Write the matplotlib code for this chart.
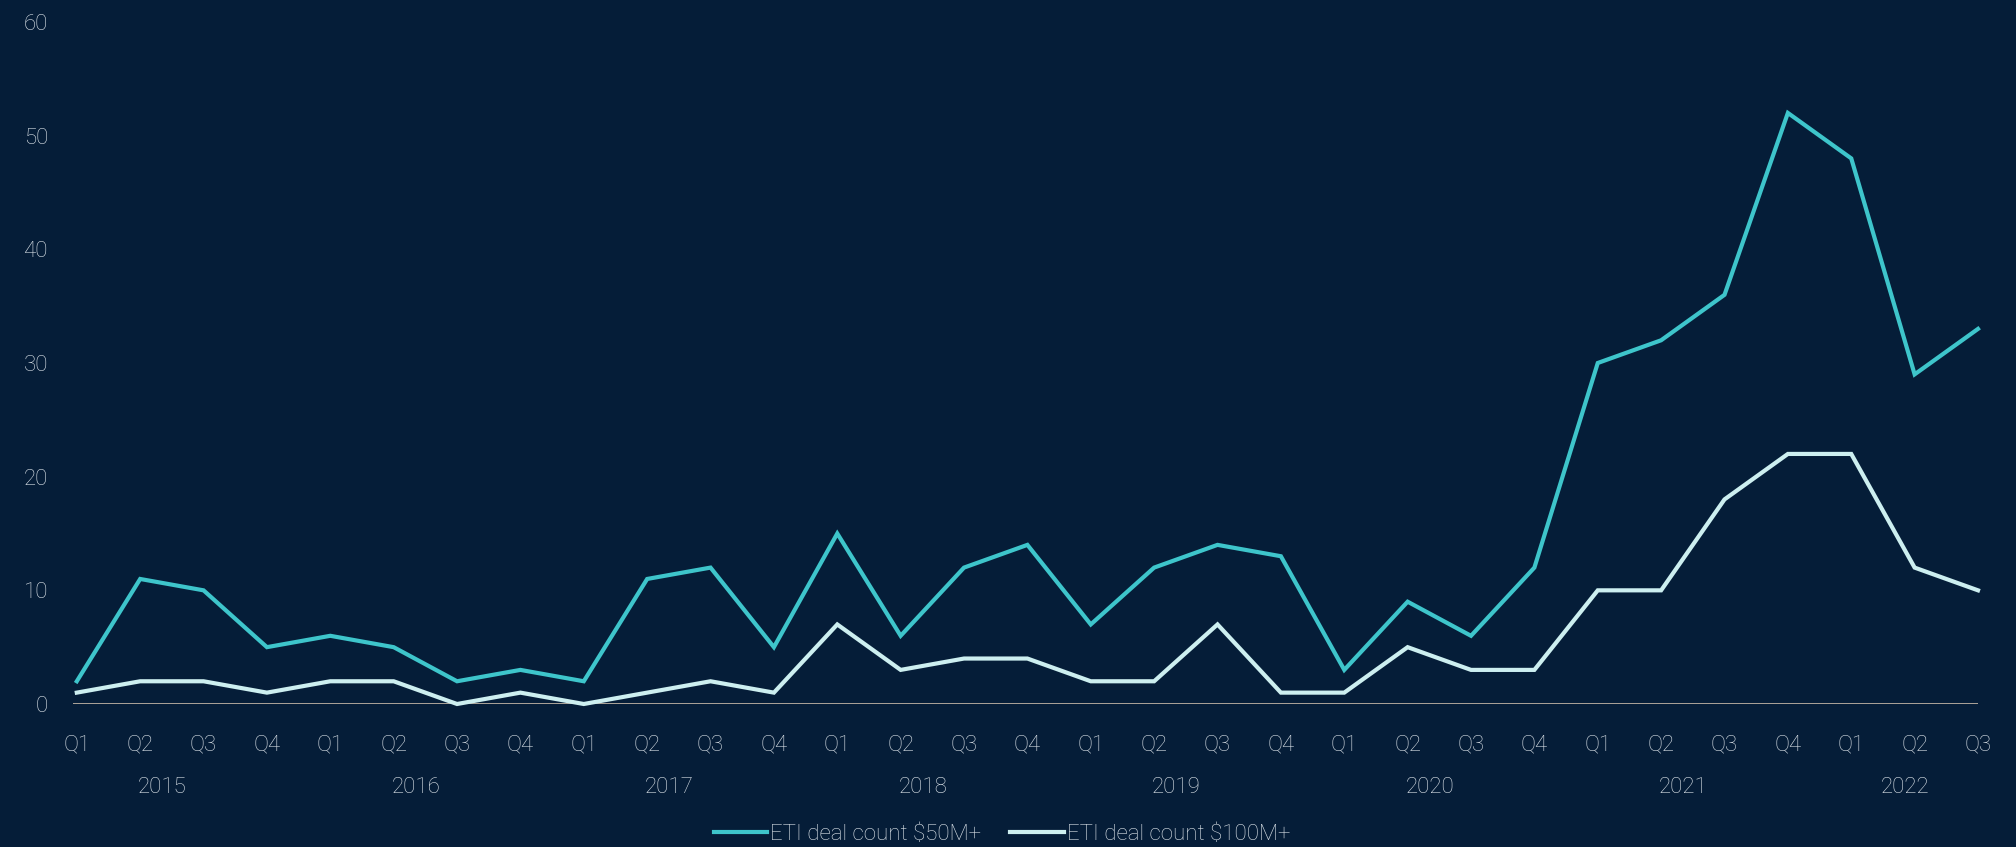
import matplotlib
matplotlib.use("Agg")
import matplotlib.pyplot as plt

# quarterly ETI deal counts, 2015 Q1 .. 2022 Q3
quarters = ["Q1", "Q2", "Q3", "Q4"] * 7 + ["Q1", "Q2", "Q3"]
years = ["2015", "2016", "2017", "2018", "2019", "2020", "2021", "2022"]
deals_50m = [2, 11, 10, 5, 6, 5, 2, 3, 2, 11, 12, 5, 15, 6, 12, 14,
             7, 12, 14, 13, 3, 9, 6, 12, 30, 32, 36, 52, 48, 29, 33]
deals_100m = [1, 2, 2, 1, 2, 2, 0, 1, 0, 1, 2, 1, 7, 3, 4, 4,
              2, 2, 7, 1, 1, 5, 3, 3, 10, 10, 18, 22, 22, 12, 10]

bg = "#051d38"
cyan = "#3ec5cb"
pale = "#cdeff0"
txt = "#dde4ea"

plt.rcParams["font.family"] = ["Roboto", "DejaVu Sans"]
plt.rcParams["font.weight"] = "light"

fig = plt.figure(figsize=(20.16, 8.47), dpi=100, facecolor=bg)
ax = fig.add_axes([73 / 2016, 1 - 704 / 847, (1978 - 73) / 2016, 682 / 847])
ax.set_facecolor(bg)

x = list(range(len(quarters)))
ax.plot(x, deals_50m, color=cyan, lw=3.0, label="ETI deal count $50M+",
        clip_on=False, solid_joinstyle="miter")
ax.plot(x, deals_100m, color=pale, lw=3.0, label="ETI deal count $100M+",
        clip_on=False, solid_joinstyle="miter")
ax.axhline(0, color="#c9bba9", lw=1.2, zorder=1)

ax.set_xlim(-0.06, 30)
ax.set_ylim(0, 60)
ax.set_yticks(range(0, 61, 10))
ax.set_xticks(x)
ax.set_xticklabels(quarters)
ax.tick_params(axis="both", length=0, colors=txt, labelsize=16)
ax.tick_params(axis="y", pad=18)
ax.tick_params(axis="x", pad=22)
for s in ax.spines.values():
    s.set_visible(False)

# year labels under each group of quarters
for i, yr in enumerate(years):
    grp = [j for j in x if j // 4 == i]
    cx = sum(grp) / len(grp) - 0.15
    ax.text(cx, -0.122, yr, transform=ax.get_xaxis_transform(),
            ha="center", va="center", color=txt, fontsize=16)

leg = fig.legend(loc="lower center", bbox_to_anchor=(0.497, -0.021), ncol=2,
                 frameon=False, fontsize=16, handlelength=2.4, handletextpad=0.15,
                 columnspacing=1.3)
for t in leg.get_texts():
    t.set_color(txt)

fig.savefig("out.png", dpi=100, facecolor=bg)
